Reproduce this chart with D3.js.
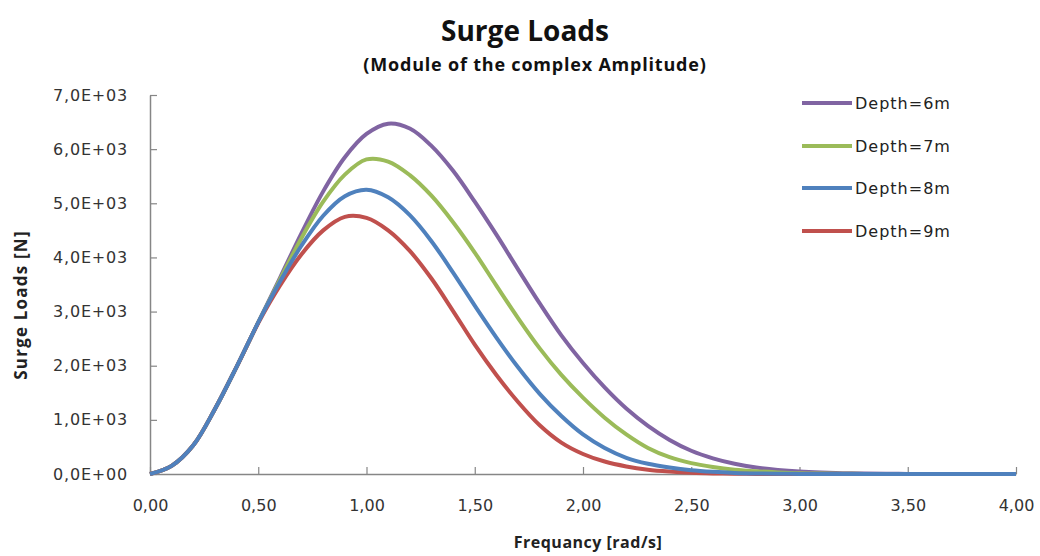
<!DOCTYPE html>
<html>
<head>
<meta charset="utf-8">
<script src="https://cdn.jsdelivr.net/npm/d3@7/dist/d3.min.js"></script>
<style>
  body { margin: 0; background: #fff; }
  svg { display: block; }
</style>
</head>
<body>
<svg id="chart" width="1040" height="556"></svg>
<script>
// frequency grid [rad/s]
const freq = d3.range(0, 41).map(i => +(i * 0.1).toFixed(1))

// surge loads [N] (0.1 rad/s steps)
const depth6 = [0, 150, 530, 1200, 1980, 2800, 3620, 4450, 5220, 5850, 6280, 6470, 6380, 6060, 5600, 5030, 4420, 3780, 3150, 2560, 2050, 1600, 1210, 890, 630, 430, 290, 190, 120, 75, 45, 27, 16, 9, 5, 2, 1, 0, 0, 0, 0]
const depth7 = [0, 150, 530, 1200, 1980, 2800, 3590, 4360, 5030, 5530, 5810, 5770, 5520, 5140, 4650, 4090, 3480, 2880, 2320, 1830, 1410, 1040, 730, 480, 310, 200, 130, 80, 50, 30, 15, 8, 4, 2, 1, 0, 0, 0, 0, 0, 0]
const depth8 = [0, 150, 530, 1200, 1980, 2800, 3550, 4220, 4770, 5130, 5250, 5110, 4780, 4300, 3720, 3110, 2520, 1970, 1480, 1070, 730, 480, 300, 190, 120, 70, 40, 20, 10, 5, 2, 0, 0, 0, 0, 0, 0, 0, 0, 0, 0]
const depth9 = [0, 150, 530, 1200, 1980, 2790, 3480, 4060, 4500, 4750, 4730, 4500, 4120, 3610, 3010, 2390, 1830, 1330, 900, 580, 370, 230, 140, 80, 45, 22, 10, 5, 2, 0, 0, 0, 0, 0, 0, 0, 0, 0, 0, 0, 0]

const seriesNames = ["Depth=6m", "Depth=7m", "Depth=8m", "Depth=9m"]
const seriesColors = ["#8064a2", "#9bbb59", "#4f81bd", "#c0504d"]
const seriesValues = [depth6, depth7, depth8, depth9]
// order the lines are painted in: blue ends up on top, as in the original
const drawOrder = [0, 1, 3, 2]

const xTicks = [0, 0.5, 1, 1.5, 2, 2.5, 3, 3.5, 4]
const yTicks = [0, 1000, 2000, 3000, 4000, 5000, 6000, 7000]

const svg = d3.select('#chart')
const plotLeft = 150, plotRight = 1016, plotTop = 95, plotBottom = 474
const axisColor = '#868686'

const x = d3.scaleLinear().domain([0, 4]).range([plotLeft, plotRight])
const y = d3.scaleLinear().domain([0, 7000]).range([plotBottom, plotTop])

// comma decimals like the original
const fmtX = d => d3.format('.2f')(d).replace('.', ',')
const fmtY = d => {
  let s = d3.format('.1e')(d).replace('.', ',')
  let m = s.match(/^(.*)e([+-])(\d+)$/)
  return m[1] + 'E' + m[2] + m[3].padStart(2, '0')
}

// axes
let gx = svg.append('g')
  .attr('transform', `translate(0,${plotBottom})`)
  .call(d3.axisBottom(x).tickValues(xTicks).tickSizeInner(-7).tickSizeOuter(0).tickPadding(26).tickFormat(fmtX))
let gy = svg.append('g')
  .attr('transform', `translate(${plotLeft},0)`)
  .call(d3.axisLeft(y).tickValues(yTicks).tickSizeInner(-7).tickSizeOuter(0).tickPadding(22).tickFormat(fmtY))

for (let g of [gx, gy]) {
  g.select('.domain').attr('stroke', axisColor).attr('stroke-width', 1.5)
  g.selectAll('.tick line').attr('stroke', axisColor).attr('stroke-width', 1.2)
  g.selectAll('text')
    .attr('fill', '#333')
    .style('font-family', 'DejaVu Sans')
    .style('font-size', '16px')
}
gy.selectAll('text').style('letter-spacing', '0.8px')

// lines
const line = d3.line()
  .x((d, i) => x(freq[i]))
  .y(d => y(d))
  .curve(d3.curveCatmullRom.alpha(0.5))

svg.append('g')
  .selectAll('path')
  .data(drawOrder)
  .join('path')
  .attr('d', k => line(seriesValues[k]))
  .attr('fill', 'none')
  .attr('stroke', k => seriesColors[k])
  .attr('stroke-width', 4)
  .attr('stroke-linejoin', 'round')

// legend
const legY = [103, 146, 188, 231]
let leg = svg.append('g')
leg.selectAll('line')
  .data(seriesNames)
  .join('line')
  .attr('x1', 802).attr('x2', 852)
  .attr('y1', (d, i) => legY[i]).attr('y2', (d, i) => legY[i])
  .attr('stroke', (d, i) => seriesColors[i])
  .attr('stroke-width', 4)
leg.selectAll('text')
  .data(seriesNames)
  .join('text')
  .attr('x', 855)
  .attr('y', (d, i) => legY[i] + 6)
  .style('font-family', 'DejaVu Sans')
  .style('font-size', '16px')
  .style('letter-spacing', '1px')
  .attr('fill', '#222')
  .text(d => d)

// titles
svg.append('text')
  .attr('x', 525).attr('y', 41)
  .attr('text-anchor', 'middle')
  .style('font-family', 'Open Sans')
  .style('font-weight', 'bold')
  .style('font-size', '28px')
  .attr('fill', '#111')
  .text('Surge Loads')

svg.append('text')
  .attr('x', 535).attr('y', 71)
  .attr('text-anchor', 'middle')
  .style('font-family', 'Open Sans')
  .style('font-weight', 'bold')
  .style('font-size', '18px')
  .style('letter-spacing', '0.8px')
  .attr('fill', '#111')
  .text('(Module of the complex Amplitude)')

svg.append('text')
  .attr('x', 588).attr('y', 548)
  .attr('text-anchor', 'middle')
  .style('font-family', 'Open Sans')
  .style('font-weight', 'bold')
  .style('font-size', '16px')
  .style('letter-spacing', '0.5px')
  .attr('fill', '#222')
  .text('Frequancy [rad/s]')

svg.append('text')
  .attr('transform', 'translate(27,305) rotate(-90)')
  .attr('text-anchor', 'middle')
  .style('font-family', 'Open Sans')
  .style('font-weight', 'bold')
  .style('font-size', '17px')
  .style('letter-spacing', '1.2px')
  .attr('fill', '#222')
  .text('Surge Loads [N]')
</script>
</body>
</html>
